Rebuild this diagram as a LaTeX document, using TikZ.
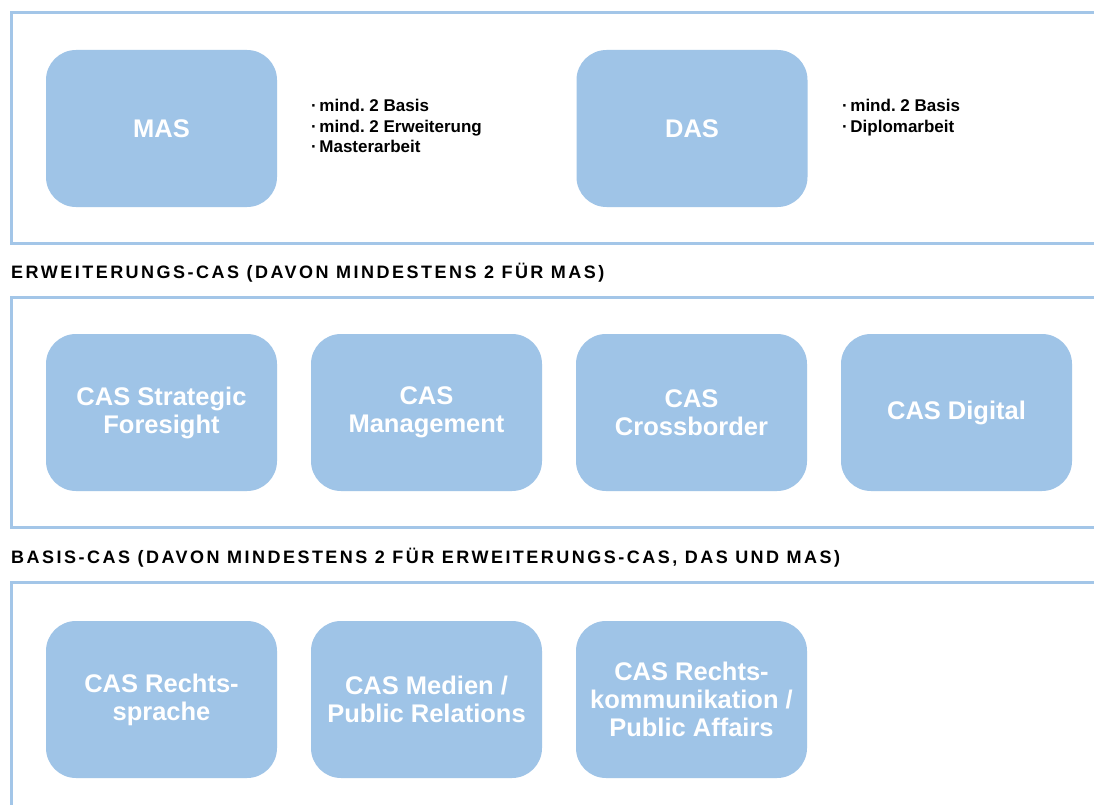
\documentclass[tikz,border=0pt]{standalone}
\usepackage{fontspec}
\setmainfont{Liberation Sans}
\newfontfamily\headfont[LetterSpace=13.8]{Liberation Sans}
\definecolor{framecol}{HTML}{A3C6E8}
\definecolor{boxcol}{HTML}{9FC4E7}
\tikzset{
  frameline/.style={draw=framecol, line width=3pt},
  casbox/.style={fill=boxcol, rounded corners=30pt, minimum width=231pt, minimum height=157pt, inner sep=0pt,
    text=white, align=center, font=\fontsize{25.5}{28}\selectfont\bfseries},
  heading/.style={anchor=base west, inner sep=0pt, font=\headfont\fontsize{18}{20}\selectfont\bfseries},
  bullets/.style={anchor=north west, inner sep=0pt, align=left, font=\fontsize{17}{20.5}\selectfont\bfseries\frenchspacing}
}
\begin{document}
\begin{tikzpicture}[x=1pt,y=-1pt]
\useasboundingbox (0,0) rectangle (1094,805);
\clip (0,0) rectangle (1094,805);
\fill[white] (0,0) rectangle (1094,805);
% frames
\draw[frameline] (1100,13) -- (11,13) -- (11,243) -- (1100,243);
\draw[frameline] (1100,297) -- (11,297) -- (11,527) -- (1100,527);
\draw[frameline] (1100,582) -- (11,582) -- (11,812);
% headings
\node[heading] (h1) at (11,278) {ERWEITERUNGS-CAS (DAVON MINDESTENS 2 FÜR MAS)};
\node[heading] (h2) at (11,563) {BASIS-CAS (DAVON MINDESTENS 2 FÜR ERWEITERUNGS-CAS, DAS UND MAS)};
% top row
\node[casbox] (mas) at (161.5,128.5) {MAS};
\node[casbox] (das) at (692,128.5) {DAS};
\node[bullets] (masb) at (311,99) {·\hspace{0.15em}mind. 2 Basis\\·\hspace{0.15em}mind. 2 Erweiterung\\·\hspace{0.15em}Masterarbeit};
\node[bullets] (dasb) at (842,99) {·\hspace{0.15em}mind. 2 Basis\\·\hspace{0.15em}Diplomarbeit};
% middle row
\node[casbox] (sf) at (161.5,412.5) {CAS Strategic\\Foresight};
\node[casbox] (mg) at (426.5,412.5) {CAS\\Management};
\node[casbox] (cb) at (691.5,412.5) {CAS\\Crossborder};
\node[casbox] (dg) at (956.5,412.5) {CAS Digital};
% bottom row
\node[casbox] (rs) at (161.5,699.5) {CAS Rechts-\\sprache};
\node[casbox] (mp) at (426.5,699.5) {CAS Medien /\\Public Relations};
\node[casbox] (rk) at (691.5,699.5) {CAS Rechts-\\kommunikation /\\Public Affairs};
\end{tikzpicture}
\end{document}
